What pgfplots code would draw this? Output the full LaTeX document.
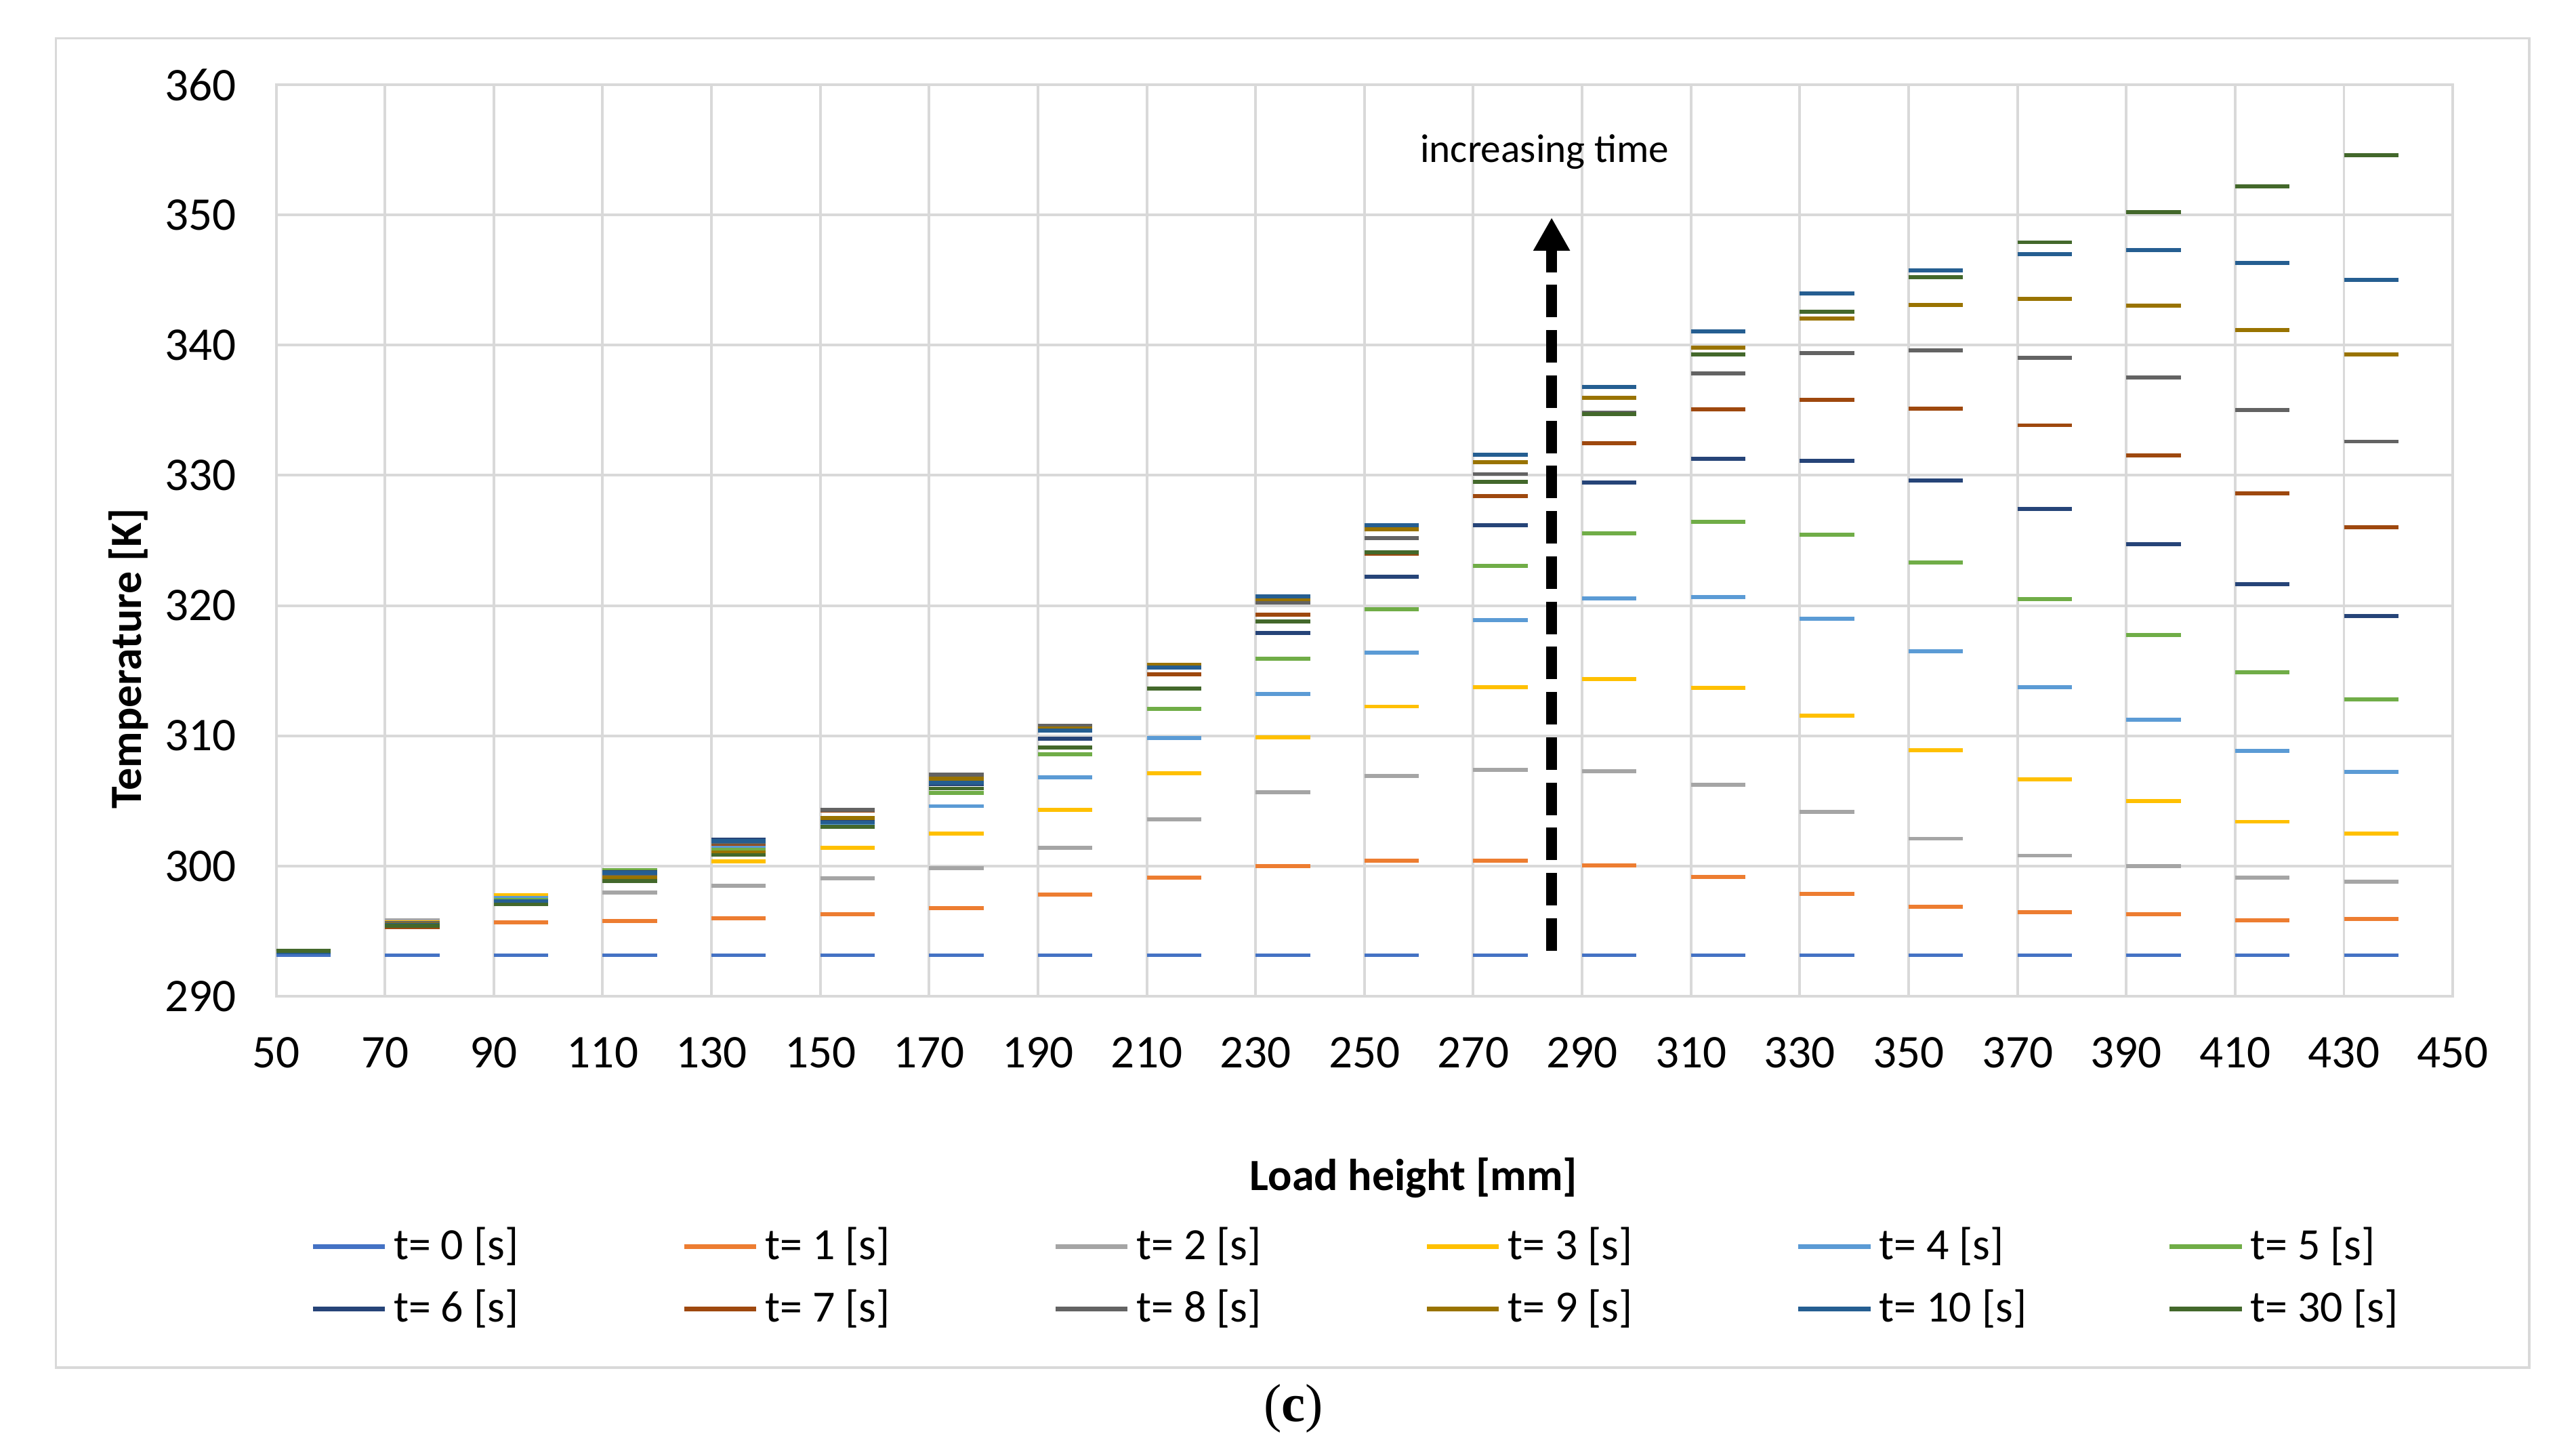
\documentclass[border=0pt]{standalone}
\usepackage{pgfplots}
\pgfplotsset{compat=1.18}
\usepackage{pgfplotstable}
\usepackage{fontspec}
\setmainfont{Carlito}
\newfontfamily\capfont{Liberation Serif}
\usetikzlibrary{arrows.meta}

\definecolor{gridgray}{HTML}{D9D9D9}
\definecolor{cT0}{HTML}{4472C4}
\definecolor{cT1}{HTML}{ED7D31}
\definecolor{cT2}{HTML}{A5A5A5}
\definecolor{cT3}{HTML}{FFC000}
\definecolor{cT4}{HTML}{5B9BD5}
\definecolor{cT5}{HTML}{70AD47}
\definecolor{cT6}{HTML}{264478}
\definecolor{cT7}{HTML}{9E480E}
\definecolor{cT8}{HTML}{636363}
\definecolor{cT9}{HTML}{997300}
\definecolor{cT10}{HTML}{255E91}
\definecolor{cT30}{HTML}{43682B}

% temperature [K] per load-height segment, each segment spans 10 mm
\pgfplotstableread{
x   t0     t1     t2     t3     t4     t5     t6     t7     t8     t9     t10    t30
50  293.15 293.40 293.45 293.45 293.40 293.45 293.40 293.40 293.45 293.45 293.40 293.50
60  293.15 293.40 293.45 293.45 293.40 293.45 293.40 293.40 293.45 293.45 293.40 293.50
65  nan    nan    nan    nan    nan    nan    nan    nan    nan    nan    nan    nan
70  293.15 295.30 295.85 295.70 295.60 295.50 295.40 295.30 295.60 295.50 295.45 295.40
80  293.15 295.30 295.85 295.70 295.60 295.50 295.40 295.30 295.60 295.50 295.45 295.40
85  nan    nan    nan    nan    nan    nan    nan    nan    nan    nan    nan    nan
90  293.15 295.65 297.50 297.75 297.55 297.40 297.30 297.20 297.25 297.20 297.30 297.05
100 293.15 295.65 297.50 297.75 297.55 297.40 297.30 297.20 297.25 297.20 297.30 297.05
105 nan    nan    nan    nan    nan    nan    nan    nan    nan    nan    nan    nan
110 293.15 295.80 297.95 298.95 299.30 299.70 299.55 299.30 299.20 299.10 299.45 298.85
120 293.15 295.80 297.95 298.95 299.30 299.70 299.55 299.30 299.20 299.10 299.45 298.85
125 nan    nan    nan    nan    nan    nan    nan    nan    nan    nan    nan    nan
130 293.15 296.00 298.50 300.35 301.40 301.25 302.00 301.70 301.80 301.05 301.90 300.85
140 293.15 296.00 298.50 300.35 301.40 301.25 302.00 301.70 301.80 301.05 301.90 300.85
145 nan    nan    nan    nan    nan    nan    nan    nan    nan    nan    nan    nan
150 293.15 296.30 299.05 301.40 303.10 303.50 303.45 304.25 304.30 303.70 303.35 303.00
160 293.15 296.30 299.05 301.40 303.10 303.50 303.45 304.25 304.30 303.70 303.35 303.00
165 nan    nan    nan    nan    nan    nan    nan    nan    nan    nan    nan    nan
170 293.15 296.75 299.85 302.50 304.60 305.60 306.30 306.90 307.00 306.70 306.40 305.95
180 293.15 296.75 299.85 302.50 304.60 305.60 306.30 306.90 307.00 306.70 306.40 305.95
185 nan    nan    nan    nan    nan    nan    nan    nan    nan    nan    nan    nan
190 293.15 297.80 301.40 304.30 306.80 308.60 309.80 310.60 310.75 310.55 310.40 309.10
200 293.15 297.80 301.40 304.30 306.80 308.60 309.80 310.60 310.75 310.55 310.40 309.10
205 nan    nan    nan    nan    nan    nan    nan    nan    nan    nan    nan    nan
210 293.15 299.10 303.60 307.10 309.85 312.05 315.30 314.70 315.35 315.45 315.25 313.65
220 293.15 299.10 303.60 307.10 309.85 312.05 315.30 314.70 315.35 315.45 315.25 313.65
225 nan    nan    nan    nan    nan    nan    nan    nan    nan    nan    nan    nan
230 293.15 300.00 305.65 309.90 313.20 315.90 317.90 319.30 320.25 320.50 320.70 318.80
240 293.15 300.00 305.65 309.90 313.20 315.90 317.90 319.30 320.25 320.50 320.70 318.80
245 nan    nan    nan    nan    nan    nan    nan    nan    nan    nan    nan    nan
250 293.15 300.40 306.90 312.25 316.40 319.70 322.20 324.00 325.20 325.85 326.15 324.10
260 293.15 300.40 306.90 312.25 316.40 319.70 322.20 324.00 325.20 325.85 326.15 324.10
265 nan    nan    nan    nan    nan    nan    nan    nan    nan    nan    nan    nan
270 293.15 300.40 307.40 313.75 318.90 323.05 326.15 328.40 330.10 331.00 331.60 329.50
280 293.15 300.40 307.40 313.75 318.90 323.05 326.15 328.40 330.10 331.00 331.60 329.50
285 nan    nan    nan    nan    nan    nan    nan    nan    nan    nan    nan    nan
290 293.15 300.05 307.30 314.35 320.55 325.55 329.45 332.45 334.80 335.95 336.80 334.70
300 293.15 300.05 307.30 314.35 320.55 325.55 329.45 332.45 334.80 335.95 336.80 334.70
305 nan    nan    nan    nan    nan    nan    nan    nan    nan    nan    nan    nan
310 293.15 299.15 306.25 313.70 320.65 326.45 331.25 335.05 337.85 339.80 341.05 339.30
320 293.15 299.15 306.25 313.70 320.65 326.45 331.25 335.05 337.85 339.80 341.05 339.30
325 nan    nan    nan    nan    nan    nan    nan    nan    nan    nan    nan    nan
330 293.15 297.85 304.15 311.55 319.00 325.45 331.10 335.80 339.40 342.05 343.95 342.55
340 293.15 297.85 304.15 311.55 319.00 325.45 331.10 335.80 339.40 342.05 343.95 342.55
345 nan    nan    nan    nan    nan    nan    nan    nan    nan    nan    nan    nan
350 293.15 296.85 302.10 308.90 316.50 323.30 329.60 335.10 339.60 343.10 345.75 345.20
360 293.15 296.85 302.10 308.90 316.50 323.30 329.60 335.10 339.60 343.10 345.75 345.20
365 nan    nan    nan    nan    nan    nan    nan    nan    nan    nan    nan    nan
370 293.15 296.45 300.80 306.65 313.75 320.50 327.40 333.85 339.05 343.55 347.00 347.90
380 293.15 296.45 300.80 306.65 313.75 320.50 327.40 333.85 339.05 343.55 347.00 347.90
385 nan    nan    nan    nan    nan    nan    nan    nan    nan    nan    nan    nan
390 293.15 296.30 300.00 305.00 311.25 317.75 324.70 331.55 337.50 343.05 347.30 350.20
400 293.15 296.30 300.00 305.00 311.25 317.75 324.70 331.55 337.50 343.05 347.30 350.20
405 nan    nan    nan    nan    nan    nan    nan    nan    nan    nan    nan    nan
410 293.15 295.85 299.10 303.40 308.85 314.90 321.65 328.60 335.00 341.15 346.30 352.20
420 293.15 295.85 299.10 303.40 308.85 314.90 321.65 328.60 335.00 341.15 346.30 352.20
425 nan    nan    nan    nan    nan    nan    nan    nan    nan    nan    nan    nan
430 293.15 295.95 298.80 302.50 307.25 312.80 319.20 326.00 332.60 339.30 345.00 354.60
440 293.15 295.95 298.80 302.50 307.25 312.80 319.20 326.00 332.60 339.30 345.00 354.60
}\temps

\newcommand{\lentry}[1]{\addlegendentry{\makebox[2.218cm][l]{#1}}}

\begin{document}
\begin{tikzpicture}
\path (-2.174,-3.595) rectangle (18.106,7.841);
\draw[gridgray, line width=0.5pt] (-1.734,-2.923) rectangle (17.738,7.54);

\begin{axis}[
    at={(0,0)}, anchor=south west,
    width=17.136cm, height=7.174cm, scale only axis,
    xmin=50, xmax=450, ymin=290, ymax=360,
    xtick={50,70,...,450}, ytick={290,300,...,360},
    grid=major,
    major grid style={gridgray, line width=0.6pt},
    axis line style={gridgray, line width=0.6pt},
    major tick length=0pt,
    /pgf/number format/assume math mode=true,
    tick label style={font=\fontsize{10.5}{12}\selectfont},
    xticklabel style={anchor=center, yshift=-0.444cm},
    yticklabel style={xshift=-0.19cm},
    xlabel={\textbf{Load height [mm]}},
    ylabel={\textbf{Temperature [K]}},
    label style={font=\fontsize{10}{12}\selectfont},
    every axis x label/.style={at={(axis description cs:0.5226,-0.1993)}, anchor=center},
    every axis y label/.style={at={(axis description cs:-0.0679,0.3705)}, rotate=90, anchor=center},
    unbounded coords=jump,
    every axis plot/.append style={line width=0.9pt},
    legend columns=6,
    legend style={draw=none, fill=none, at={(axis description cs:0.0092,-0.2354)}, anchor=north west,
        font=\fontsize{10}{12}\selectfont, nodes={inner sep=0.05cm},
        /tikz/every even column/.append style={column sep=0pt}, row sep=0.086cm},
    legend image code/.code={\draw[#1, line width=1.1pt] (0cm,0cm) -- (0.567cm,0cm);},
]
\addplot[cT0]  table[x=x, y=t0]  {\temps}; \lentry{t= 0 [s]}
\addplot[cT1]  table[x=x, y=t1]  {\temps}; \lentry{t= 1 [s]}
\addplot[cT2]  table[x=x, y=t2]  {\temps}; \lentry{t= 2 [s]}
\addplot[cT3]  table[x=x, y=t3]  {\temps}; \lentry{t= 3 [s]}
\addplot[cT4]  table[x=x, y=t4]  {\temps}; \lentry{t= 4 [s]}
\addplot[cT5]  table[x=x, y=t5]  {\temps}; \lentry{t= 5 [s]}
\addplot[cT6]  table[x=x, y=t6]  {\temps}; \lentry{t= 6 [s]}
\addplot[cT7]  table[x=x, y=t7]  {\temps}; \lentry{t= 7 [s]}
\addplot[cT8]  table[x=x, y=t8]  {\temps}; \lentry{t= 8 [s]}
\addplot[cT9]  table[x=x, y=t9]  {\temps}; \lentry{t= 9 [s]}
\addplot[cT10] table[x=x, y=t10] {\temps}; \lentry{t= 10 [s]}
\addplot[cT30] table[x=x, y=t30] {\temps}; \lentry{t= 30 [s]}

% annotation arrow
\draw[black, line width=2.4pt, dash pattern=on 0.256cm off 0.1cm,
      -{Triangle[width=0.27cm, length=0.26cm]}]
      (axis cs:284.4,293.5) -- (axis cs:284.4,349.8);
\node[anchor=base, font=\fontsize{9}{11}\selectfont, inner sep=0pt]
      at (axis cs:283.1,354.05) {increasing time};
\end{axis}

\node[font=\capfont\fontsize{12}{14}\selectfont] at (8.009,-3.248) {(\textbf{c})};
\end{tikzpicture}
\end{document}
